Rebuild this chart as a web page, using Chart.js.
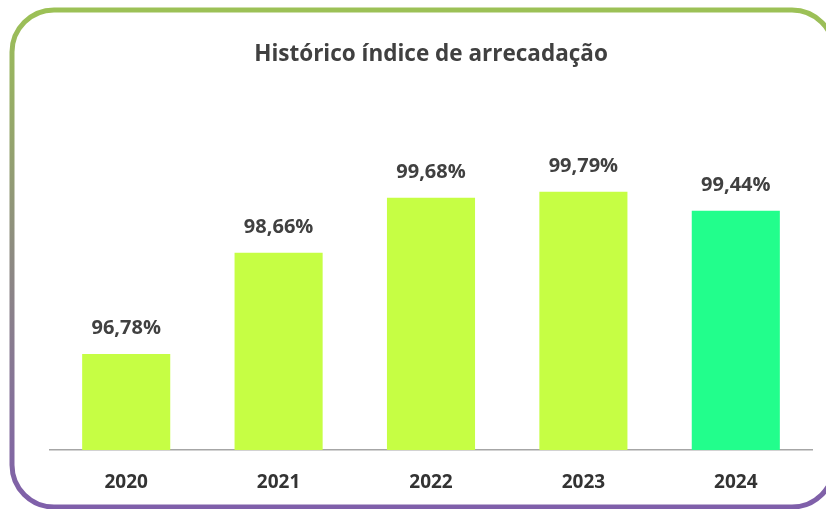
<!DOCTYPE html>
<html>
<head>
<meta charset="utf-8">
<script src="https://cdn.jsdelivr.net/npm/chart.js@4/dist/chart.umd.min.js"></script>
<style>
  html, body { margin: 0; padding: 0; background: #ffffff; }
  #wrap { position: relative; width: 826px; height: 509px; }
</style>
</head>
<body>
<div id="wrap"><canvas id="c" width="826" height="509"></canvas></div>
<script>
const titleText = 'Histórico índice de arrecadação';
const categories = ['2020', '2021', '2022', '2023', '2024'];
const values = [96.78, 98.66, 99.68, 99.79, 99.44];
const barColors = ['#C6FE44', '#C6FE44', '#C6FE44', '#C6FE44', '#22FE8C'];

const fontFamily = '"Open Sans", "DejaVu Sans", sans-serif';

const frame = {
  id: 'frame',
  beforeDraw(chart) {
    const ctx = chart.ctx;
    ctx.save();
    const g = ctx.createLinearGradient(0, 10, 0, 507);
    g.addColorStop(0, '#9CC156');
    g.addColorStop(0.5, '#8D8A82');
    g.addColorStop(1, '#7F5FAA');
    ctx.strokeStyle = g;
    ctx.lineWidth = 5;
    ctx.beginPath();
    ctx.roundRect(12, 10, 822, 497, 42);
    ctx.stroke();
    ctx.restore();
  }
};

const valueLabels = {
  id: 'valueLabels',
  afterDatasetsDraw(chart) {
    const ctx = chart.ctx;
    const meta = chart.getDatasetMeta(0);
    ctx.save();
    ctx.font = 'bold 20px ' + fontFamily;
    ctx.fillStyle = '#404040';
    ctx.textAlign = 'center';
    ctx.textBaseline = 'alphabetic';
    meta.data.forEach((el, i) => {
      const txt = values[i].toFixed(2).replace('.', ',') + '%';
      ctx.fillText(txt, el.x, el.y - 20);
    });
    ctx.restore();
  }
};

new Chart(document.getElementById('c'), {
  type: 'bar',
  data: {
    labels: categories,
    datasets: [{
      data: values,
      backgroundColor: barColors,
      borderWidth: 0,
      categoryPercentage: 1,
      barPercentage: 0.578
    }]
  },
  options: {
    responsive: false,
    animation: false,
    devicePixelRatio: 1,
    layout: { padding: { left: 50, right: 14, top: 0, bottom: 0 } },
    plugins: {
      legend: { display: false },
      tooltip: { enabled: false },
      title: {
        display: true,
        text: titleText,
        color: '#404040',
        font: { family: fontFamily, size: 22.5, weight: 'bold', lineHeight: 1.2 },
        padding: { top: 41, bottom: 112.5 }
      }
    },
    scales: {
      y: {
        display: false,
        min: 95,
        max: 100
      },
      x: {
        grid: { display: false, drawTicks: false },
        border: { display: true, color: '#A6A6A6', width: 1.5 },
        afterFit(scale) { scale.height = 59; },
        ticks: {
          color: '#333333',
          padding: 21,
          font: { family: fontFamily, size: 19, weight: 'bold', lineHeight: 1.2 }
        }
      }
    }
  },
  plugins: [frame, valueLabels]
});
</script>
</body>
</html>
